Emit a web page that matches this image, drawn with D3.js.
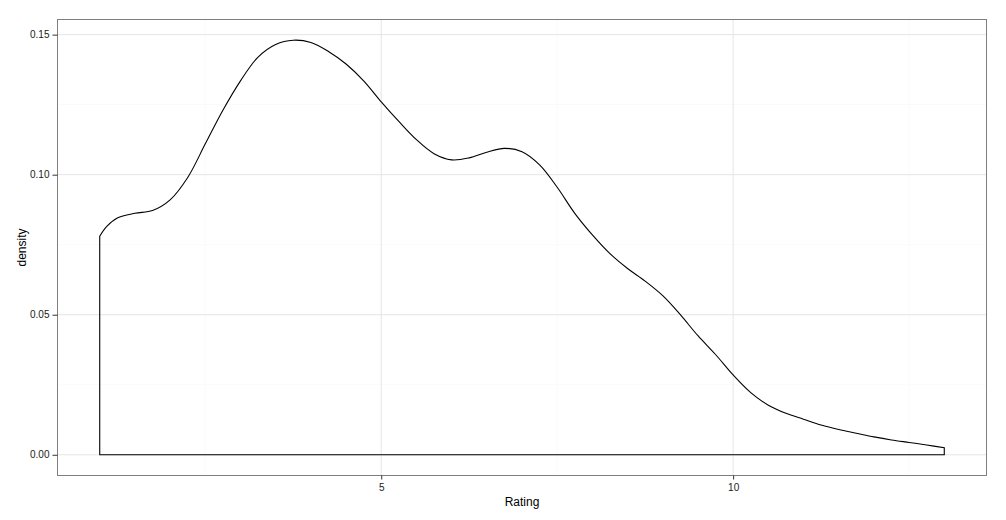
<!DOCTYPE html>
<html>
<head>
<meta charset="utf-8">
<script src="https://cdn.jsdelivr.net/npm/d3@7"></script>
<style>
  body { margin: 0; background: #fff; }
  text { font-family: "Liberation Sans", Arial, sans-serif; }
</style>
</head>
<body>
<script>
let ratings = [1, 1.1, 1.25, 1.5, 1.75, 2, 2.25, 2.5, 2.75, 3, 3.25, 3.5, 3.75, 4, 4.25, 4.5, 4.75,
  5, 5.25, 5.5, 5.75, 6, 6.25, 6.5, 6.75, 7, 7.25, 7.5, 7.75, 8, 8.25, 8.5, 8.75, 9, 9.25, 9.5, 9.75,
  10, 10.25, 10.5, 10.75, 11, 11.25, 11.5, 11.75, 12, 12.25, 12.5, 12.75, 13];
let densities = [0.078, 0.0815, 0.0845, 0.0862, 0.0872, 0.091, 0.099, 0.111, 0.123, 0.1335, 0.142, 0.1465, 0.148,
  0.1472, 0.144, 0.1395, 0.1335, 0.126, 0.119, 0.1125, 0.1075, 0.1053, 0.106, 0.108, 0.1094, 0.1082,
  0.1035, 0.0955, 0.0862, 0.0785, 0.0718, 0.0665, 0.062, 0.0568, 0.05, 0.0425, 0.0358, 0.0285, 0.0222,
  0.0177, 0.0148, 0.0127, 0.0106, 0.009, 0.0077, 0.0064, 0.0053, 0.0044, 0.0035, 0.0025];

let xMajor = [5, 10];
let xMinor = [2.5, 7.5, 12.5];
let yMajor = [0, 0.05, 0.1, 0.15];
let yMinor = [0.025, 0.075, 0.125];

let width = 1006, height = 520;
let margin = {top: 19.5, right: 19.5, bottom: 44.5, left: 57.5};

let points = ratings.map((r, i) => ({x: r, y: densities[i]}));

// ggplot style 5% expansion
let xExt = d3.extent(ratings);
let xPad = (xExt[1] - xExt[0]) * 0.05;
let yMax = d3.max(densities);
let yPad = yMax * 0.05;

let x = d3.scaleLinear()
  .domain([xExt[0] - xPad, xExt[1] + xPad])
  .range([margin.left, width - margin.right]);

let y = d3.scaleLinear()
  .domain([0 - yPad, yMax + yPad])
  .range([height - margin.bottom, margin.top]);

let svg = d3.select("body").append("svg")
  .attr("width", width)
  .attr("height", height);

let grid = svg.append("g");

grid.selectAll(".xminor").data(xMinor).enter().append("line")
  .attr("x1", d => x(d)).attr("x2", d => x(d))
  .attr("y1", margin.top).attr("y2", height - margin.bottom)
  .style("stroke", "#fafafa");

grid.selectAll(".yminor").data(yMinor).enter().append("line")
  .attr("x1", margin.left).attr("x2", width - margin.right)
  .attr("y1", d => y(d)).attr("y2", d => y(d))
  .style("stroke", "#fafafa");

grid.selectAll(".xmajor").data(xMajor).enter().append("line")
  .attr("x1", d => x(d)).attr("x2", d => x(d))
  .attr("y1", margin.top).attr("y2", height - margin.bottom)
  .style("stroke", "#e5e5e5");

grid.selectAll(".ymajor").data(yMajor).enter().append("line")
  .attr("x1", margin.left).attr("x2", width - margin.right)
  .attr("y1", d => y(d)).attr("y2", d => y(d))
  .style("stroke", "#e5e5e5");

// density outline, closed down to zero at both ends
let outline = [{x: xExt[0], y: 0}].concat(points, [{x: xExt[1], y: 0}]);
let line = d3.line()
  .x(d => x(d.x))
  .y(d => y(d.y));

let curve = d3.line()
  .x(d => x(d.x))
  .y(d => y(d.y))
  .curve(d3.curveCatmullRom.alpha(0.5));

let path = "M" + x(xExt[0]) + "," + y(0) +
  "L" + curve(points).slice(1) +
  "L" + x(xExt[1]) + "," + y(0) + "Z";

svg.append("path")
  .attr("d", path)
  .style("fill", "none")
  .style("stroke", "#000")
  .style("stroke-width", 1.1)
  .style("stroke-linejoin", "miter");

// panel border
svg.append("rect")
  .attr("x", margin.left).attr("y", margin.top)
  .attr("width", width - margin.left - margin.right)
  .attr("height", height - margin.top - margin.bottom)
  .style("fill", "none")
  .style("stroke", "#7f7f7f")
  .style("stroke-width", 1);

let xAxis = svg.append("g")
  .attr("transform", "translate(0," + (height - margin.bottom) + ")")
  .call(d3.axisBottom(x).tickValues(xMajor).tickSize(4).tickPadding(4).tickFormat(d3.format("d")));

let yAxis = svg.append("g")
  .attr("transform", "translate(" + margin.left + ",0)")
  .call(d3.axisLeft(y).tickValues(yMajor).tickSize(5).tickPadding(3).tickFormat(d3.format(".2f")));

[xAxis, yAxis].forEach(ax => {
  ax.select(".domain").remove();
  ax.selectAll(".tick line").style("stroke", "#333");
  ax.selectAll(".tick text")
    .style("font-family", "'Liberation Sans', Arial, sans-serif")
    .style("font-size", "10px")
    .style("fill", "#1a1a1a");
});

svg.append("text")
  .attr("x", (margin.left + width - margin.right) / 2)
  .attr("y", 506)
  .attr("text-anchor", "middle")
  .style("font-size", "12px")
  .text("Rating");

svg.append("text")
  .attr("transform", "translate(26," + ((margin.top + height - margin.bottom) / 2) + ") rotate(-90)")
  .attr("text-anchor", "middle")
  .style("font-size", "12px")
  .text("density");
</script>
</body>
</html>
